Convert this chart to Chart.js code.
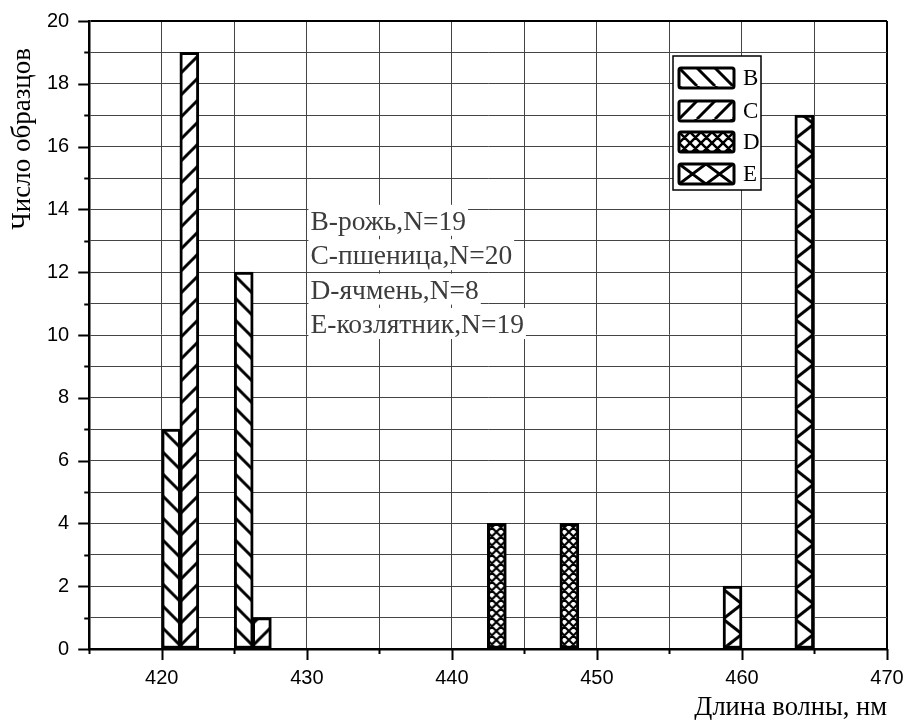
<!DOCTYPE html>
<html>
<head>
<meta charset="utf-8">
<script src="https://cdn.jsdelivr.net/npm/chart.js@4.4.1/dist/chart.umd.min.js"></script>
<style>
  html, body { margin: 0; padding: 0; background: #fff; }
  #wrap { width: 904px; height: 720px; }
</style>
</head>
<body>
<div id="wrap"><canvas id="chart"></canvas></div>
<script>
// Histogram of peak wavelength per sample group

const seriesNames = ['B', 'C', 'D', 'E'];
const waveB = [420.65, 425.65];
const countB = [7, 12];
const waveC = [421.9, 426.9];
const countC = [19, 1];
const waveD = [443.1, 448.1];
const countD = [4, 4];
const waveE = [459.35, 464.3];
const countE = [2, 17];
const notes = ['B-рожь,N=19', 'C-пшеница,N=20', 'D-ячмень,N=8', 'E-козлятник,N=19'];
const xMin = 415, xMax = 470, xStep = 5;
const yMin = 0, yMax = 20, yStep = 1;

const BAR_W = 19;
const SERIF = '"Liberation Serif", "Times New Roman", serif';
const SANS = '"Liberation Sans", Arial, sans-serif';

// hatch tiles: kinds 'back' (\), 'fwd' (/), 'cross' (both)
function makeTile(kind, w, h, lw) {
  const c = document.createElement('canvas');
  c.width = w; c.height = h;
  const g = c.getContext('2d');
  g.fillStyle = '#fff';
  g.fillRect(0, 0, w, h);
  g.strokeStyle = '#000';
  g.lineWidth = lw;
  g.beginPath();
  for (let k = -1; k <= 1; k++) {
    if (kind === 'back' || kind === 'cross') {
      g.moveTo(k * w, 0); g.lineTo(k * w + w, h);
    }
    if (kind === 'fwd' || kind === 'cross') {
      g.moveTo(k * w, h); g.lineTo(k * w + w, 0);
    }
  }
  g.stroke();
  return c;
}

const barTiles = {
  B: makeTile('back', 22, 22, 3),
  C: makeTile('fwd', 22, 22, 3),
  D: makeTile('cross', 9, 9, 2.2),
  E: makeTile('cross', 38, 30, 3)
};
// vertical phase so B and C lines meet as chevrons at the shared edge
const barPhase = { B: 0, C: BAR_W, D: 0, E: 0 };
const legendTiles = {
  B: makeTile('back', 18, 18, 3),
  C: makeTile('fwd', 18, 18, 3),
  D: makeTile('cross', 11, 11, 2.5),
  E: makeTile('cross', 27, 20, 3)
};

const helperCtx = document.createElement('canvas').getContext('2d');

function patternAt(tile, tx, ty) {
  const p = helperCtx.createPattern(tile, 'repeat');
  p.setTransform(new DOMMatrix([1, 0, 0, 1, tx, ty]));
  return p;
}

// pattern anchored to the bar's lower-left corner
function barFill(name) {
  return (ctx) => {
    const chart = ctx.chart;
    if (!ctx.raw || !chart.scales.x) return patternAt(barTiles[name], 0, 0);
    const left = chart.scales.x.getPixelForValue(ctx.raw.x) - BAR_W / 2;
    const bottom = chart.scales.y.getPixelForValue(0);
    return patternAt(barTiles[name], left, bottom + barPhase[name]);
  };
}

function points(xs, ys) {
  return xs.map((x, i) => ({ x: x, y: ys[i] }));
}

const seriesData = [points(waveB, countB), points(waveC, countC), points(waveD, countD), points(waveE, countE)];

// outside tick marks: long on labelled values, short in between
const axisTicks = {
  id: 'axisTicks',
  afterDraw(chart) {
    const { ctx, scales: { x, y }, chartArea } = chart;
    ctx.save();
    ctx.strokeStyle = '#000';
    ctx.lineWidth = 2;
    ctx.beginPath();
    for (let v = yMin; v <= yMax; v += yStep) {
      const py = Math.round(y.getPixelForValue(v)) + 0.5;
      const len = v % 2 === 0 ? 11 : 5;
      ctx.moveTo(chartArea.left - len, py);
      ctx.lineTo(chartArea.left, py);
    }
    for (let v = xMin; v <= xMax; v += xStep) {
      const px = Math.round(x.getPixelForValue(v)) + 0.5;
      const len = v % 10 === 0 ? 11 : 5;
      ctx.moveTo(px, chartArea.bottom);
      ctx.lineTo(px, chartArea.bottom + len);
    }
    ctx.stroke();
    ctx.restore();
  }
};

const notesBox = {
  id: 'notesBox',
  afterDatasetsDraw(chart) {
    const { ctx, scales: { x, y } } = chart;
    const tx = x.getPixelForValue(430.25);
    const ty = y.getPixelForValue(13.35);
    ctx.save();
    ctx.font = '27.5px ' + SERIF;
    ctx.textBaseline = 'alphabetic';
    notes.forEach((t, i) => {
      const by = ty + i * 34.4;
      const w = ctx.measureText(t).width;
      ctx.fillStyle = '#fff';
      ctx.fillRect(tx - 2, by - 25, w + 4, 31);
      ctx.fillStyle = '#3c3c3c';
      ctx.fillText(t, tx, by);
    });
    ctx.restore();
  }
};

const boxLegend = {
  id: 'boxLegend',
  afterDatasetsDraw(chart) {
    const { ctx, chartArea } = chart;
    const bx = chartArea.right - 214;
    const by = chartArea.top + 35;
    ctx.save();
    ctx.fillStyle = '#fff';
    ctx.fillRect(bx, by, 88, 134);
    ctx.strokeStyle = '#000';
    ctx.lineWidth = 1.5;
    ctx.strokeRect(bx, by, 88, 134);
    const rows = [22, 55, 86, 118];
    chart.data.datasets.forEach((ds, i) => {
      const cy = by + rows[i];
      const sx = bx + 6, sy = cy - 10;
      ctx.fillStyle = patternAt(legendTiles[ds.label], sx, sy);
      ctx.beginPath();
      ctx.roundRect(sx, sy, 55, 20, 2);
      ctx.fill();
      ctx.lineWidth = 3;
      ctx.stroke();
      ctx.fillStyle = '#000';
      ctx.font = '23px ' + SERIF;
      ctx.textBaseline = 'middle';
      ctx.fillText(ds.label, bx + 70, cy + 1);
    });
    ctx.restore();
  }
};

new Chart(document.getElementById('chart'), {
  type: 'bar',
  data: {
    datasets: seriesNames.map((name, i) => ({
      label: name,
      data: seriesData[i],
      backgroundColor: barFill(name),
      borderColor: '#000',
      borderWidth: 3,
      borderSkipped: false,
      barThickness: BAR_W,
      grouped: false
    }))
  },
  options: {
    responsive: true,
    maintainAspectRatio: false,
    animation: false,
    layout: { padding: { top: 0, right: 17, left: 0, bottom: 0 } },
    plugins: {
      legend: { display: false },
      tooltip: { enabled: false }
    },
    scales: {
      x: {
        type: 'linear',
        offset: false,
        min: xMin,
        max: xMax,
        grid: {
          offset: false,
          tickLength: 17,
          tickColor: 'rgba(0,0,0,0)',
          color: (c) => c.tick && c.tick.value === xMax ? '#000' : '#444',
          lineWidth: (c) => c.tick && c.tick.value === xMax ? 2 : 1
        },
        border: { color: '#000', width: 2.5 },
        ticks: {
          stepSize: xStep,
          padding: 0,
          color: '#000',
          font: { family: SANS, size: 20 },
          maxRotation: 0,
          autoSkip: false,
          callback: (v) => (v % 10 === 0 ? String(v) : '')
        },
        title: {
          display: true,
          text: 'Длина волны, нм',
          align: 'end',
          color: '#000',
          font: { family: SERIF, size: 26.5, lineHeight: '20px' },
          padding: { top: 8, bottom: 2 }
        }
      },
      y: {
        min: yMin,
        max: yMax,
        grid: {
          tickLength: 11,
          tickColor: 'rgba(0,0,0,0)',
          color: (c) => c.tick && c.tick.value === yMax ? '#000' : '#444',
          lineWidth: (c) => c.tick && c.tick.value === yMax ? 2 : 1
        },
        border: { color: '#000', width: 2.5 },
        ticks: {
          stepSize: yStep,
          padding: 9,
          color: '#000',
          font: { family: SANS, size: 20 },
          autoSkip: false,
          callback: (v) => (v % 2 === 0 ? String(v) : '')
        },
        title: {
          display: true,
          text: 'Число образцов\u00A0\u00A0\u00A0\u00A0',
          align: 'end',
          color: '#000',
          font: { family: SERIF, size: 27, lineHeight: '26px' },
          padding: { top: 10, bottom: 2 }
        }
      }
    }
  },
  plugins: [axisTicks, notesBox, boxLegend]
});
</script>
</body>
</html>
